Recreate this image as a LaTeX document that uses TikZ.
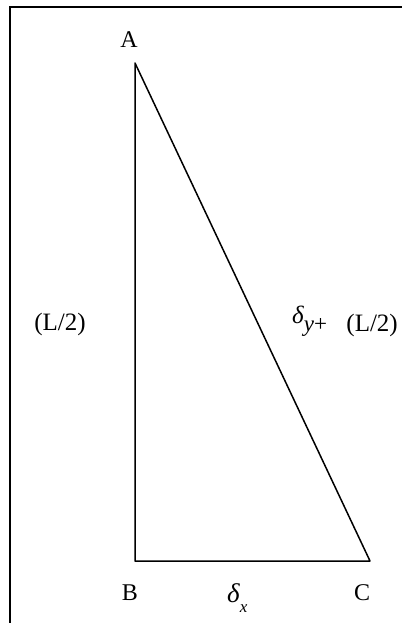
\documentclass[tikz,border=0pt]{standalone}
\usepackage{fontspec}
\setmainfont{Liberation Serif}
\begin{document}
\begin{tikzpicture}[x=1pt,y=-1pt,
  lbl/.style={inner sep=0pt, font=\fontsize{24}{26}\selectfont},
  big/.style={inner sep=0pt, font=\fontsize{25}{27}\selectfont},
  edge/.style={line width=1.5pt, line join=round},
  frame/.style={line width=2.6pt}]
\useasboundingbox (0,0) rectangle (402,623);
\fill[white] (0,0) rectangle (402,623);
\coordinate (fb) at (10,623);
\coordinate (ft) at (10,7);
\coordinate (fr) at (402,7);
\draw[frame] (fb) -- (ft) -- (fr);
\coordinate (A) at (135,63);
\coordinate (B) at (135,561);
\coordinate (C) at (370,561);
\draw[edge] (A) -- (B) -- (C) -- cycle;
\node[lbl, anchor=base] (la) at (129,48) {A};
\node[lbl, anchor=base] (lb) at (130,600) {B};
\node[lbl, anchor=base] (lc) at (362,600) {C};
\node[big, anchor=base west] (dx) at (227,602) {{\fontsize{27}{29}\selectfont\itshape δ}\raisebox{-10pt}{\fontsize{17}{19}\selectfont\itshape x}};
\node[big, anchor=base] (ll) at (60,330) {(L/2)};
\node[big, anchor=base west] (dy) at (292,331) {\raisebox{8pt}{\itshape δ}{\fontsize{23}{25}\selectfont\itshape y\upshape +}};
\node[big, anchor=base east] (lr) at (398,331) {(L/2)};
\end{tikzpicture}
\end{document}
